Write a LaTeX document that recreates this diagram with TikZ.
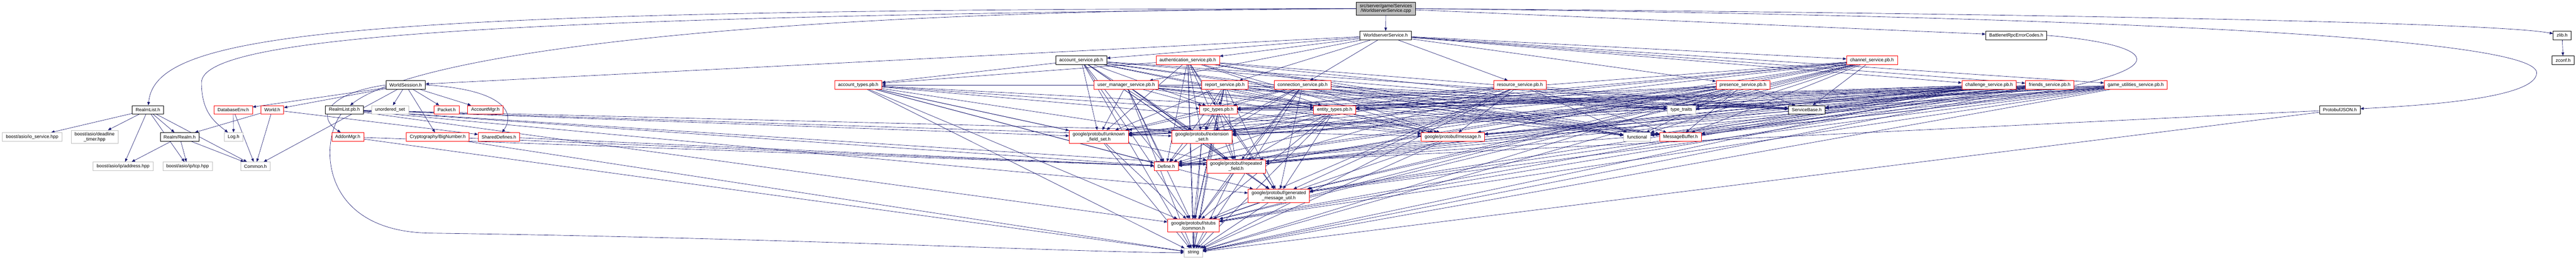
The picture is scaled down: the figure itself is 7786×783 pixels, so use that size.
\documentclass[tikz,border=0pt]{standalone}
\usepackage{fontspec}
\setmainfont{Liberation Sans}
\usetikzlibrary{arrows.meta,backgrounds}

\definecolor{edgeblue}{RGB}{25,25,112}
\definecolor{nodegray}{RGB}{191,191,191}

\tikzset{
  hdr/.style={draw=black, fill=white, line width=0.75pt, inner xsep=8pt, inner ysep=2pt,
    minimum height=19.5pt, align=center, font=\fontsize{10.5}{11.5}\selectfont},
  hdrred/.style={hdr, draw=red},
  hdrgray/.style={hdr, draw=nodegray},
  tworow/.style={minimum height=30pt},
  dep/.style={draw=edgeblue, line width=0.75pt, -{Triangle[length=7.5pt,width=6pt]}},
}

% targets shared by every generated protobuf header
\newcommand\pbbase{unknown,extension,message,repeated,genutil,stubs,stringh,defineh}
\newcommand\pbnostr{unknown,extension,message,repeated,genutil,stubs,defineh}
\newcommand\svcextra{rpctypes,svcbase,msgbuf,functional,typetraits}

\begin{document}
\begin{tikzpicture}[x=0.75pt,y=0.75pt,yscale=-1,xscale=1]
\useasboundingbox (0,0) rectangle (7786,783);

% Text Node: root file
\node [hdr, fill=nodegray, tworow] (root) at (4189,26) {src/server/game/Services\\/WorldserverService.cpp};

% Text Node: row 2
\node [hdr] (wsh) at (4188,107) {WorldserverService.h};
\node [hdr] (bnet) at (6094,107) {BattlenetRpcErrorCodes.h};
\node [hdr] (zlibh) at (7744,107) {zlib.h};

% Text Node: row 3
\node [hdr] (accsvc) at (3268,182) {account\_service.pb.h};
\node [hdrred] (authsvc) at (3590,182) {authentication\_service.pb.h};
\node [hdrred] (chansvc) at (5658,182) {channel\_service.pb.h};
\node [hdr] (zconfh) at (7747,182) {zconf.h};

% Text Node: row 4
\node [hdr] (wsess) at (1226,257) {WorldSession.h};
\node [hdrred] (acctypes) at (2594,257) {account\_types.pb.h};
\node [hdrred] (umsvc) at (3404,257) {user\_manager\_service.pb.h};
\node [hdrred] (repsvc) at (3702,257) {report\_service.pb.h};
\node [hdrred] (connsvc) at (3937,257) {connection\_service.pb.h};
\node [hdrred] (ressvc) at (4594,257) {resource\_service.pb.h};
\node [hdrred] (pressvc) at (5268,257) {presence\_service.pb.h};
\node [hdrred] (chalsvc) at (6012,257) {challenge\_service.pb.h};
\node [hdrred] (frsvc) at (6195,257) {friends\_service.pb.h};
\node [hdrred] (gusvc) at (6455,257) {game\_utilities\_service.pb.h};

% Text Node: row 5
\node [hdr] (rlist) at (447,332) {RealmList.h};
\node [hdrred] (dbenv) at (705,332) {DatabaseEnv.h};
\node [hdrred] (worldh) at (823,332) {World.h};
\node [hdr] (rlistpb) at (1041,332) {RealmList.pb.h};
\node [hdrgray] (uset) at (1179,332) {unordered\_set};
\node [hdrred] (packeth) at (1350,332) {Packet.h};
\node [hdrred] (accmgr) at (1467,332) {AccountMgr.h};
\node [hdrred] (rpctypes) at (3682,332) {rpc\_types.pb.h};
\node [hdrred] (enttypes) at (4034,332) {entity\_types.pb.h};
\node [hdrgray] (typetraits) at (5082,332) {type\_traits};
\node [hdr] (svcbase) at (5461,332) {ServiceBase.h};
\node [hdr] (pjson) at (7072,332) {ProtobufJSON.h};

% Text Node: row 6
\node [hdrgray] (iosvc) at (97,414) {boost/asio/io\_service.hpp};
\node [hdrgray, tworow] (dtimer) at (286,414) {boost/asio/deadline\\\_timer.hpp};
\node [hdr] (realmh) at (543,414) {Realm/Realm.h};
\node [hdrgray] (logh) at (706,414) {Log.h};
\node [hdrred] (addonmgr) at (1051,414) {AddonMgr.h};
\node [hdrred] (bignum) at (1323,414) {Cryptography/BigNumber.h};
\node [hdrred] (shdefs) at (1508,414) {SharedDefines.h};
\node [hdrred, tworow] (unknown) at (3321,414) {google/protobuf/unknown\\\_field\_set.h};
\node [hdrred, tworow] (extension) at (3633,414) {google/protobuf/extension\\\_set.h};
\node [hdrred] (message) at (4391,414) {google/protobuf/message.h};
\node [hdrgray] (functional) at (4948,414) {functional};
\node [hdrred] (msgbuf) at (5079,414) {MessageBuffer.h};

% Text Node: rows 7 to 10
\node [hdrgray] (address) at (372,503) {boost/asio/ip/address.hpp};
\node [hdrgray] (tcp) at (567,503) {boost/asio/ip/tcp.hpp};
\node [hdrgray] (commonh) at (772,503) {Common.h};
\node [hdrred] (defineh) at (3525,503) {Define.h};
\node [hdrred, tworow] (repeated) at (3736,503) {google/protobuf/repeated\\\_field.h};
\node [hdrred, tworow] (genutil) at (3865,592) {google/protobuf/generated\\\_message\_util.h};
\node [hdrred, tworow] (stubs) at (3607,682) {google/protobuf/stubs\\/common.h};
\node [hdrgray] (stringh) at (3607,764) {string};

\begin{pgfonlayer}{background}
%Curve Lines: root file
\draw [dep] (root) -- (wsh);
\draw [dep] (root) -- (bnet);
\draw [dep] (root.west) .. controls (1000,27) and (470,100) .. (rlist);
\draw [dep] (root.west) .. controls (1500,50) and (609,110) .. (609,250) .. controls (609,340) and (650,370) .. (logh);
\draw [dep] (root.west) .. controls (2200,30) and (1250,170) .. (rlistpb);
\draw [dep] (root.east) .. controls (5500,35) and (7500,60) .. (zlibh);
\draw [dep] (root.east) .. controls (6500,50) and (7667,120) .. (7667,220) .. controls (7667,300) and (7300,320) .. (pjson);
\draw [dep] (zlibh) -- (zconfh);
\draw [dep] (bnet.east) .. controls (6700,150) and (6800,330) .. (defineh);

%Straight Lines: service header
\foreach \t in {accsvc,authsvc,chansvc,wsess,umsvc,repsvc,connsvc,ressvc,pressvc,chalsvc,frsvc,gusvc}
  \draw [dep] (wsh) -- (\t);

%Straight Lines: generated services
\foreach \s in {accsvc,authsvc,chansvc,umsvc,repsvc,connsvc,ressvc,pressvc,chalsvc,frsvc,gusvc} {
  \foreach \t in \pbbase
    \draw [dep] (\s) -- (\t);
  \foreach \t in \svcextra
    \draw [dep] (\s) -- (\t);
}
\foreach \s in {accsvc,authsvc,repsvc}
  \draw [dep] (\s) -- (acctypes);
\foreach \s in {accsvc,authsvc,chansvc,umsvc,pressvc,chalsvc,frsvc,gusvc,acctypes}
  \draw [dep] (\s) -- (enttypes);
\foreach \s in {acctypes,enttypes}
  \draw [dep] (\s) -- (rpctypes);
\foreach \s in {acctypes,enttypes,rpctypes}
  \foreach \t in \pbbase
    \draw [dep] (\s) -- (\t);
\foreach \t in \pbnostr
  \draw [dep] (rlistpb) -- (\t);
\draw [dep] (rlistpb) .. controls (966,430) and (966,700) .. (1300,705) .. controls (2400,720) and (3300,765) .. (stringh);

%Straight Lines: session and realm side
\foreach \t in {dbenv,worldh,uset,commonh,bignum,packeth,accmgr}
  \draw [dep] (wsess) -- (\t);
\draw [dep] (wsess.west) .. controls (1000,280) and (950,350) .. (addonmgr);
\draw [dep] (wsess.east) .. controls (1520,270) and (1560,340) .. (shdefs);
\foreach \t in {realmh,commonh,shdefs}
  \draw [dep] (worldh) -- (\t);
\foreach \t in {logh,commonh}
  \draw [dep] (dbenv) -- (\t);
\foreach \t in {iosvc,dtimer,realmh,address,tcp,commonh}
  \draw [dep] (rlist) -- (\t);
\foreach \t in {address,tcp,commonh}
  \draw [dep] (realmh) -- (\t);
\foreach \s in {addonmgr,bignum,pjson}
  \foreach \t in {defineh,stringh}
    \draw [dep] (\s) -- (\t);
\draw [dep] (shdefs) -- (defineh);

%Straight Lines: protobuf internals
\foreach \s in {unknown,extension,repeated,genutil,message}
  \foreach \t in {stubs,stringh}
    \draw [dep] (\s) -- (\t);
\draw [dep] (extension) -- (repeated);
\draw [dep] (repeated) -- (genutil);
\draw [dep] (stubs) -- (stringh);
\end{pgfonlayer}

\end{tikzpicture}
\end{document}
